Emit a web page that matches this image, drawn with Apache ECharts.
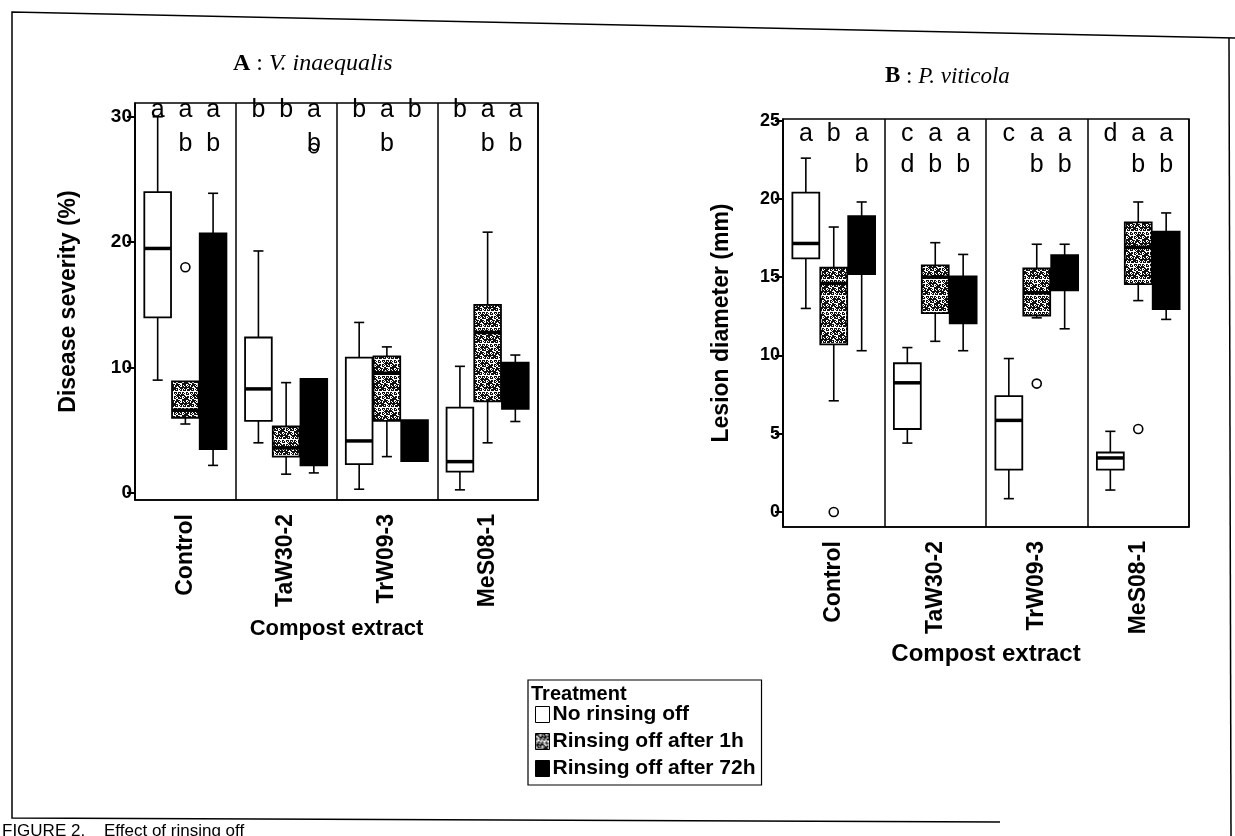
<!DOCTYPE html>
<html>
<head>
<meta charset="utf-8">
<script src="https://cdn.jsdelivr.net/npm/echarts@6/dist/echarts.min.js"></script>
<style>
html, body { margin: 0; padding: 0; background: #fff; }
#main { width: 1235px; height: 836px; }
</style>
</head>
<body>
<div id="main"></div>
<script>
var groups = ['Control', 'TaW30-2', 'TrW09-3', 'MeS08-1'];
var treatments = ['No rinsing off', 'Rinsing off after 1h', 'Rinsing off after 72h'];

// A : disease severity (%), one [min, q1, median, q3, max] per extract
var severityNone = [[9, 14, 19.5, 24, 30], [4, 5.75, 8.3, 12.4, 19.3], [0.3, 2.3, 4.15, 10.8, 13.6], [0.25, 1.7, 2.5, 6.8, 10.1]];
var severity1h = [[5.5, 6, 6.6, 8.9, 8.9], [1.5, 2.9, 3.6, 5.3, 8.8], [2.9, 5.75, 9.55, 10.9, 11.65], [4, 7.3, 12.8, 15, 20.8]];
var severity72h = [[2.2, 3.5, 10, 20.7, 23.9], [1.6, 2.2, 5, 9.1, 9.1], [2.55, 2.55, 4, 5.8, 5.8], [5.7, 6.7, 8, 10.4, 11]];
var severityOutliers = [[0, 1, 18], [1, 2, 27.5]]; // [extract, treatment, value]
var severityLetters = [['a', 'a\nb', 'a\nb'], ['b', 'b', 'a\nb'], ['b', 'a\nb', 'b'], ['b', 'a\nb', 'a\nb']];
var severityTicks = [0, 10, 20, 30];

// B : lesion diameter (mm)
var lesionNone = [[13, 16.2, 17.15, 20.4, 22.6], [4.4, 5.3, 8.25, 9.5, 10.5], [0.85, 2.7, 5.85, 7.4, 9.8], [1.4, 2.7, 3.45, 3.8, 5.15]];
var lesion1h = [[7.1, 10.7, 14.6, 15.6, 18.2], [10.9, 12.7, 15, 15.75, 17.2], [12.4, 12.55, 14, 15.55, 17.1], [13.5, 14.55, 16.9, 18.5, 19.8]];
var lesion72h = [[10.3, 15.2, 17, 18.9, 19.8], [10.3, 12.05, 13.5, 15.05, 16.45], [11.7, 14.15, 15.5, 16.4, 17.1], [12.3, 12.95, 15.5, 17.9, 19.1]];
var lesionOutliers = [[0, 1, 0], [2, 1, 8.2], [3, 1, 5.3]];
var lesionLetters = [['a', 'b', 'a\nb'], ['c\nd', 'a\nb', 'a\nb'], ['c', 'a\nb', 'a\nb'], ['d', 'a\nb', 'a\nb']];
var lesionTicks = [0, 5, 10, 15, 20, 25];

var SANS = "'Liberation Sans', Arial, sans-serif";
var SERIF = "'Liberation Serif', 'Times New Roman', serif";

// speckled grey fill like the scanned print
function speckle() {
    var c = document.createElement('canvas');
    c.width = 16; c.height = 16;
    var ctx = c.getContext('2d');
    ctx.fillStyle = '#fff';
    ctx.fillRect(0, 0, 16, 16);
    ctx.fillStyle = '#111';
    for (var y = 0; y < 16; y++) {
        for (var x = 0; x < 16; x++) {
            if ((x * 73 + y * 151 + x * y * 29) % 23 < 14) ctx.fillRect(x, y, 1, 1);
        }
    }
    return c;
}
var grey = { image: speckle(), repeat: 'repeat' };
var fills = ['#fff', grey, '#000'];

function boxSeries(panel, t, stats) {
    return {
        type: 'custom',
        name: treatments[t],
        xAxisIndex: panel,
        yAxisIndex: panel,
        itemStyle: { color: fills[t], borderColor: '#000', borderWidth: 1.5 },
        encode: { x: 0, y: [1, 2, 3, 4, 5] },
        data: stats.map(function (s, i) { return [i].concat(s); }),
        renderItem: function (params, api) {
            var band = api.size([1, 0])[0];
            var cx = api.coord([api.value(0), 0])[0] + (t - 1) * band * 0.275;
            var w = band * 0.265, cap = band * 0.05;
            var y = [1, 2, 3, 4, 5].map(function (d) { return api.coord([0, api.value(d)])[1]; });
            var line = { stroke: '#000', lineWidth: 1.6 };
            var kids = [];
            if (y[4] < y[3]) {
                kids.push({ type: 'line', shape: { x1: cx, y1: y[3], x2: cx, y2: y[4] }, style: line });
                kids.push({ type: 'line', shape: { x1: cx - cap, y1: y[4], x2: cx + cap, y2: y[4] }, style: line });
            }
            if (y[0] > y[1]) {
                kids.push({ type: 'line', shape: { x1: cx, y1: y[1], x2: cx, y2: y[0] }, style: line });
                kids.push({ type: 'line', shape: { x1: cx - cap, y1: y[0], x2: cx + cap, y2: y[0] }, style: line });
            }
            kids.push({ type: 'rect', shape: { x: cx - w / 2, y: y[3], width: w, height: y[1] - y[3] },
                style: { fill: fills[t], stroke: '#000', lineWidth: 1.8 } });
            kids.push({ type: 'line', shape: { x1: cx - w / 2, y1: y[2], x2: cx + w / 2, y2: y[2] },
                style: { stroke: '#000', lineWidth: 3.5 } });
            return { type: 'group', children: kids };
        }
    };
}

function outlierSeries(panel, pts) {
    return {
        type: 'custom', name: 'outliers' + panel, xAxisIndex: panel, yAxisIndex: panel,
        encode: { x: 0, y: 2 },
        data: pts,
        renderItem: function (params, api) {
            var band = api.size([1, 0])[0];
            var p = api.coord([api.value(0), api.value(2)]);
            return { type: 'circle', shape: { cx: p[0] + (api.value(1) - 1) * band * 0.275, cy: p[1], r: 4.5 },
                style: { fill: '#fff', stroke: '#000', lineWidth: 1.6 } };
        }
    };
}

// letters of the multiple-comparison test, one text per line
function letterSeries(panel, letters, firstRow, rowGap) {
    var data = [];
    letters.forEach(function (row, g) { row.forEach(function (s, t) { data.push([g, t]); }); });
    return {
        type: 'custom', name: 'letters' + panel, xAxisIndex: panel, yAxisIndex: panel, silent: true,
        encode: { x: 0 },
        data: data,
        renderItem: function (params, api) {
            var g = api.value(0), t = api.value(1);
            var band = api.size([1, 0])[0];
            var cx = api.coord([g, 0])[0] + (t - 1) * band * 0.275;
            return {
                type: 'group',
                children: letters[g][t].split('\n').map(function (s, k) {
                    return { type: 'text', style: { text: s, x: cx, y: params.coordSys.y + firstRow + k * rowGap,
                        align: 'center', verticalAlign: 'middle', fill: '#000', font: '25px ' + SANS } };
                })
            };
        }
    };
}

function xAxis(grid, nameGap, nameSize, labelSize) {
    return {
        type: 'category', gridIndex: grid, data: groups,
        name: 'Compost extract', nameLocation: 'middle', nameGap: nameGap,
        nameTextStyle: { fontFamily: SANS, fontSize: nameSize, fontWeight: 'bold', color: '#000' },
        axisLine: { onZero: false, lineStyle: { color: '#000', width: 1.5 } },
        axisTick: { alignWithLabel: true, length: 7, lineStyle: { color: '#000', width: 2.5 } },
        axisLabel: { rotate: 90, margin: 14, fontFamily: SANS, fontSize: labelSize, fontWeight: 'bold', color: '#000' },
        splitLine: { show: true, interval: 0, lineStyle: { color: '#000', width: 1.5 } }
    };
}

function yAxis(grid, name, min, max, ticks, nameGap, labelSize) {
    return {
        type: 'value', gridIndex: grid, min: min, max: max,
        name: name, nameLocation: 'middle', nameGap: nameGap,
        nameTextStyle: { fontFamily: SANS, fontSize: 23, fontWeight: 'bold', color: '#000' },
        axisLine: { show: true, onZero: false, lineStyle: { color: '#000', width: 1.5 } },
        axisTick: { show: true, length: 8, customValues: ticks, lineStyle: { color: '#000', width: 2 } },
        axisLabel: { customValues: ticks, margin: 3, fontFamily: SANS, fontSize: labelSize, fontWeight: 'bold', color: '#000' },
        splitLine: { show: false }
    };
}

var chart = echarts.init(document.getElementById('main'));
chart.setOption({
    backgroundColor: '#fff',
    animation: false,
    title: [
        { text: '{b|A} : {i|V. inaequalis}', left: 228, top: 47,
          textStyle: { fontFamily: SERIF, fontSize: 24, fontWeight: 'normal', color: '#000',
              rich: { b: { fontFamily: SERIF, fontSize: 24, fontWeight: 'bold' },
                      i: { fontFamily: SERIF, fontSize: 24, fontStyle: 'italic' } } } },
        { text: '{b|B} : {i|P. viticola}', left: 880, top: 60,
          textStyle: { fontFamily: SERIF, fontSize: 23, fontWeight: 'normal', color: '#000',
              rich: { b: { fontFamily: SERIF, fontSize: 23, fontWeight: 'bold' },
                      i: { fontFamily: SERIF, fontSize: 23, fontStyle: 'italic' } } } }
    ],
    grid: [
        { left: 135, top: 103, width: 403, height: 397, show: true, borderColor: '#000', borderWidth: 1.5 },
        { left: 783, top: 119, width: 406, height: 408, show: true, borderColor: '#000', borderWidth: 1.5 }
    ],
    xAxis: [xAxis(0, 118, 22, 23), xAxis(1, 115, 24, 23)],
    yAxis: [
        yAxis(0, 'Disease severity (%)', -0.56, 31.1, severityTicks, 55, 19),
        yAxis(1, 'Lesion diameter (mm)', -0.96, 25.1, lesionTicks, 50, 18)
    ],
    legend: {
        left: 528, top: 680, orient: 'vertical',
        padding: [24, 6, 6, 7], itemGap: 6, itemWidth: 14, itemHeight: 16,
        borderColor: '#000', borderWidth: 1.2, icon: 'rect',
        textStyle: { fontFamily: SANS, fontSize: 21, fontWeight: 'bold', color: '#000', padding: [0, 0, 0, -2] },
        data: treatments.map(function (n, t) {
            return { name: n, itemStyle: { color: fills[t], borderColor: '#000', borderWidth: 1 } };
        })
    },
    graphic: [
        { type: 'text', left: 531, top: 684, style: { text: 'Treatment', font: 'bold 20px ' + SANS, fill: '#000' } },
        { type: 'polyline', shape: { points: [[1235, 38], [12, 12], [12, 818], [1000, 822]] }, style: { stroke: '#000', lineWidth: 1.5, fill: null } },
        { type: 'line', shape: { x1: 1229, y1: 38, x2: 1231, y2: 836 }, style: { stroke: '#000', lineWidth: 1.5 } },
        { type: 'text', left: 2, top: 823, style: { text: 'FIGURE 2.    Effect of rinsing off', font: '17px ' + SANS, fill: '#000' } }
    ],
    series: [
        boxSeries(0, 0, severityNone), boxSeries(0, 1, severity1h), boxSeries(0, 2, severity72h),
        outlierSeries(0, severityOutliers), letterSeries(0, severityLetters, 7, 34),
        boxSeries(1, 0, lesionNone), boxSeries(1, 1, lesion1h), boxSeries(1, 2, lesion72h),
        outlierSeries(1, lesionOutliers), letterSeries(1, lesionLetters, 15, 31)
    ]
});
</script>
</body>
</html>
